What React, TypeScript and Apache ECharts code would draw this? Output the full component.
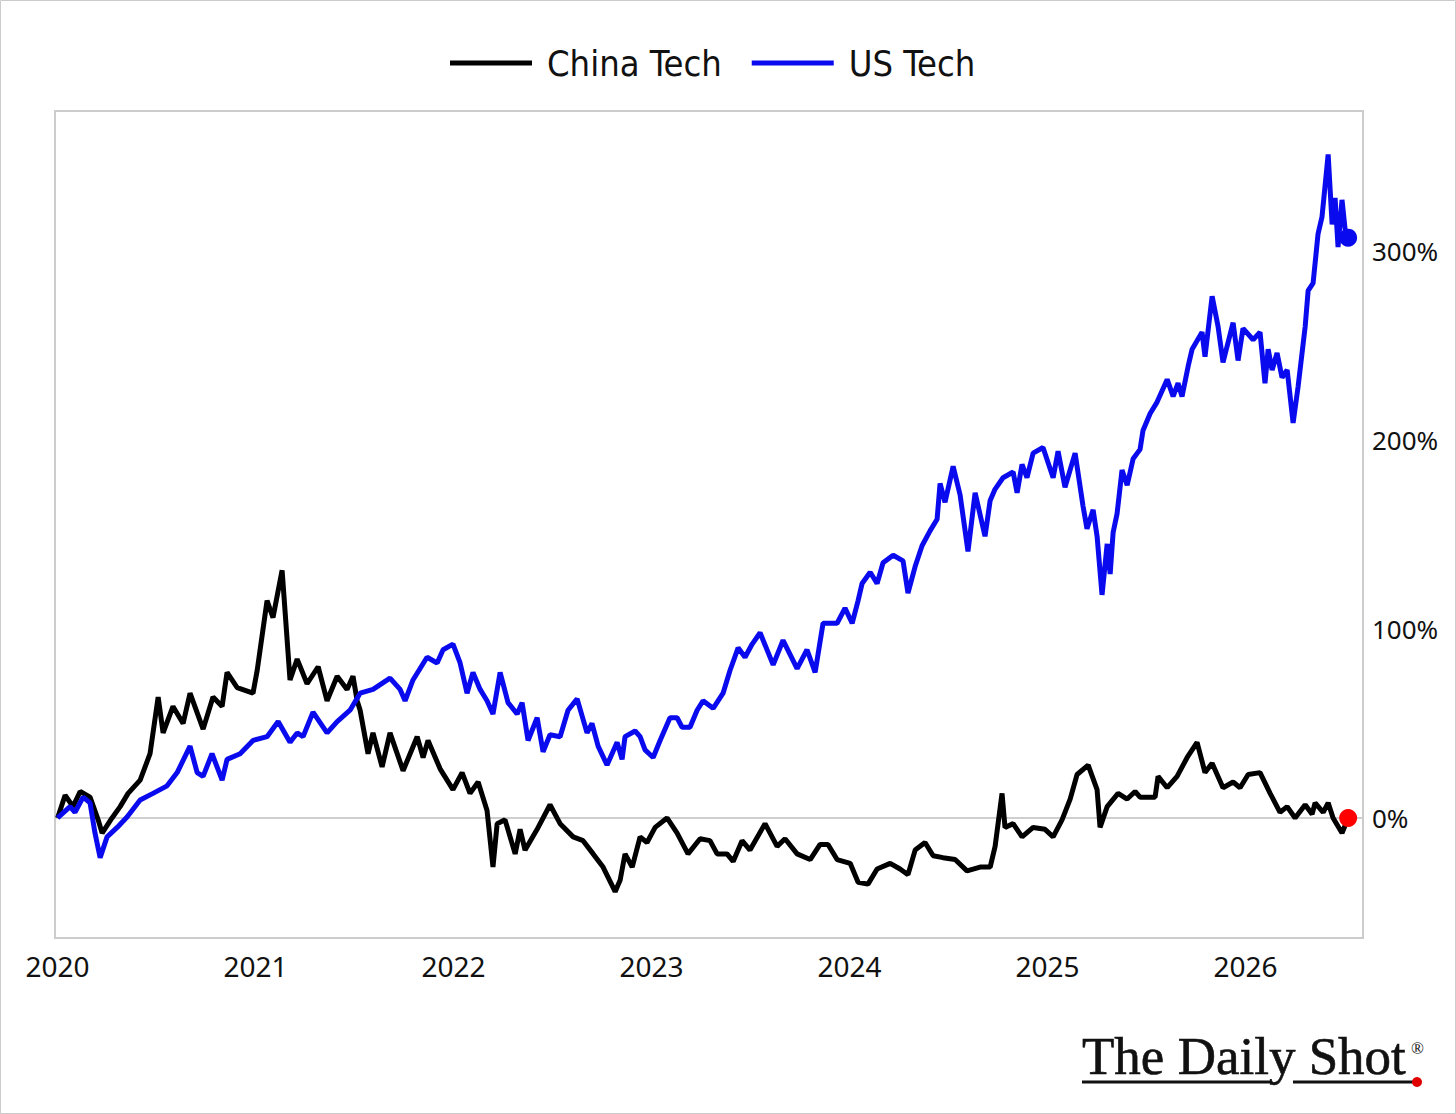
import React, { useEffect, useRef } from "react";
import * as echarts from "echarts";

// [decimal year, cumulative return %]
const chinaTech: [number, number][] = [
  [2020.0, 0], [2020.038, 12], [2020.078, 6], [2020.114, 14], [2020.164, 11], [2020.205, -1], [2020.225, -8],
  [2020.275, 0], [2020.316, 6], [2020.356, 13], [2020.417, 20], [2020.467, 34], [2020.508, 64], [2020.533, 45],
  [2020.583, 59], [2020.634, 50], [2020.669, 66], [2020.735, 47], [2020.785, 64], [2020.831, 59], [2020.856, 77],
  [2020.907, 69], [2020.987, 66], [2021.008, 78], [2021.058, 115], [2021.088, 106], [2021.134, 131], [2021.174, 73],
  [2021.21, 84], [2021.26, 71], [2021.316, 80], [2021.361, 62], [2021.412, 75], [2021.462, 68], [2021.492, 75],
  [2021.513, 62], [2021.528, 57], [2021.568, 34], [2021.593, 45], [2021.639, 27], [2021.679, 45], [2021.745, 25],
  [2021.816, 43], [2021.846, 32], [2021.871, 41], [2021.932, 26], [2021.997, 15], [2022.043, 24], [2022.083, 13],
  [2022.124, 19], [2022.169, 4], [2022.199, -26], [2022.22, -3], [2022.26, -1], [2022.311, -19], [2022.336, -6],
  [2022.361, -17], [2022.422, -6], [2022.487, 7], [2022.538, -3], [2022.604, -10], [2022.654, -12], [2022.705, -19],
  [2022.755, -26], [2022.816, -39], [2022.841, -33], [2022.866, -19], [2022.902, -26], [2022.942, -10], [2022.977, -13],
  [2023.018, -5], [2023.078, 0], [2023.129, -8], [2023.184, -19], [2023.245, -11], [2023.295, -12], [2023.331, -19],
  [2023.381, -19], [2023.412, -23], [2023.457, -12], [2023.497, -17], [2023.573, -3], [2023.634, -15], [2023.674, -11],
  [2023.735, -19], [2023.801, -22], [2023.851, -14], [2023.891, -14], [2023.937, -22], [2024.003, -24], [2024.043, -34],
  [2024.093, -35], [2024.139, -27], [2024.205, -24], [2024.255, -27], [2024.295, -30], [2024.331, -17], [2024.381, -13],
  [2024.422, -20], [2024.472, -21], [2024.533, -22], [2024.593, -28], [2024.659, -26], [2024.71, -26], [2024.735, -15],
  [2024.77, 13], [2024.785, -5], [2024.826, -3], [2024.871, -10], [2024.927, -5], [2024.987, -6], [2025.028, -10],
  [2025.073, -1], [2025.114, 10], [2025.149, 23], [2025.205, 28], [2025.25, 15], [2025.265, -5], [2025.301, 6],
  [2025.356, 13], [2025.402, 10], [2025.442, 14], [2025.467, 11], [2025.543, 11], [2025.558, 22], [2025.604, 16],
  [2025.654, 22], [2025.705, 32], [2025.755, 40], [2025.795, 24], [2025.831, 29], [2025.886, 16], [2025.937, 19],
  [2025.972, 16], [2026.013, 23], [2026.073, 24], [2026.124, 13], [2026.174, 3], [2026.21, 6], [2026.25, 0],
  [2026.301, 7], [2026.336, 2], [2026.351, 8], [2026.392, 3], [2026.417, 8], [2026.442, 0], [2026.487, -8],
  [2026.518, 0],
];

const usTech: [number, number][] = [
  [2020.0, 0], [2020.063, 6], [2020.088, 3], [2020.129, 11], [2020.164, 8], [2020.189, -8], [2020.215, -21],
  [2020.25, -10], [2020.301, -5], [2020.351, 0.5], [2020.417, 9.5], [2020.482, 13], [2020.553, 17], [2020.604, 24],
  [2020.669, 38], [2020.705, 24], [2020.735, 22], [2020.78, 34], [2020.831, 20], [2020.856, 31], [2020.922, 34],
  [2020.987, 41], [2021.058, 43], [2021.114, 51], [2021.174, 40], [2021.21, 45], [2021.24, 43], [2021.29, 56],
  [2021.361, 45], [2021.412, 51], [2021.477, 57], [2021.528, 66], [2021.593, 68], [2021.679, 74], [2021.73, 68],
  [2021.755, 62], [2021.795, 73], [2021.866, 85], [2021.917, 82], [2021.947, 89], [2021.997, 92], [2022.033, 82],
  [2022.068, 66], [2022.098, 77], [2022.134, 68], [2022.169, 62], [2022.199, 55], [2022.235, 77], [2022.275, 61],
  [2022.321, 55], [2022.346, 61], [2022.376, 41], [2022.422, 53], [2022.452, 35], [2022.487, 44], [2022.538, 43],
  [2022.578, 57], [2022.624, 63], [2022.674, 45], [2022.699, 50], [2022.73, 38], [2022.775, 28], [2022.826, 40],
  [2022.851, 31], [2022.866, 43], [2022.917, 46], [2022.942, 43], [2022.967, 36], [2023.008, 32], [2023.043, 41],
  [2023.093, 53], [2023.129, 53], [2023.154, 48], [2023.194, 48], [2023.23, 57], [2023.26, 62], [2023.311, 58],
  [2023.361, 66], [2023.396, 78], [2023.437, 90], [2023.472, 85], [2023.508, 92], [2023.548, 98], [2023.614, 81],
  [2023.664, 94], [2023.735, 79], [2023.785, 89], [2023.826, 77], [2023.866, 103], [2023.937, 103], [2023.977, 111],
  [2024.013, 103], [2024.043, 115], [2024.063, 124], [2024.104, 130], [2024.139, 124], [2024.169, 135], [2024.22, 139],
  [2024.27, 136], [2024.295, 119], [2024.331, 133], [2024.366, 144], [2024.407, 152], [2024.442, 158], [2024.457, 177],
  [2024.482, 167], [2024.523, 186], [2024.558, 171], [2024.598, 141], [2024.634, 172], [2024.684, 149], [2024.71, 168],
  [2024.735, 174], [2024.775, 180], [2024.826, 183], [2024.846, 172], [2024.871, 187], [2024.896, 180], [2024.927, 193],
  [2024.977, 196], [2025.028, 180], [2025.053, 194], [2025.088, 175], [2025.139, 193], [2025.179, 165], [2025.199, 153],
  [2025.23, 163], [2025.25, 149], [2025.275, 118], [2025.301, 145], [2025.316, 129], [2025.331, 151], [2025.351, 161],
  [2025.376, 184], [2025.402, 176], [2025.432, 190], [2025.467, 195], [2025.482, 205], [2025.518, 214], [2025.553, 220],
  [2025.604, 232], [2025.634, 223], [2025.659, 230], [2025.679, 223], [2025.71, 239], [2025.73, 248], [2025.78, 257],
  [2025.795, 244], [2025.831, 276], [2025.861, 260], [2025.886, 241], [2025.937, 262], [2025.962, 242], [2025.987, 259],
  [2026.038, 253], [2026.073, 257], [2026.098, 230], [2026.114, 248], [2026.134, 237], [2026.159, 246], [2026.184, 233],
  [2026.21, 237], [2026.24, 209], [2026.265, 228], [2026.301, 260], [2026.316, 279], [2026.341, 283], [2026.366, 309],
  [2026.386, 318], [2026.417, 351], [2026.437, 314], [2026.452, 328], [2026.467, 302], [2026.487, 327], [2026.503, 311],
  [2026.518, 307],
];

const seriesNames = ["China Tech", "US Tech"];
const xTickYears = [2020, 2021, 2022, 2023, 2024, 2025, 2026];
const yTickValues = [0, 100, 200, 300];

export default function App() {
  const ref = useRef<HTMLDivElement>(null);

  useEffect(() => {
    const chart = echarts.init(ref.current!, null, { renderer: "svg" });
    const chinaLast = chinaTech[chinaTech.length - 1];
    const usLast = usTech[usTech.length - 1];
    const tickFont = "'Noto Sans', 'DejaVu Sans', sans-serif";

    chart.setOption({
      animation: false,
      backgroundColor: "#ffffff",
      legend: {
        data: seriesNames,
        top: 40,
        left: 445,
        icon: "rect",
        itemWidth: 82,
        itemHeight: 5,
        itemGap: 30,
        textStyle: {
          fontFamily: "'Liberation Sans Narrow', 'DejaVu Sans Condensed', sans-serif",
          fontSize: 36,
          color: "#111",
          padding: [0, 0, 0, 10],
        },
      },
      grid: {
        left: 55,
        right: 93,
        top: 111,
        bottom: 176,
        show: true,
        borderColor: "#cccccc",
        borderWidth: 2,
        backgroundColor: "transparent",
      },
      xAxis: {
        type: "value",
        min: 2019.987,
        max: 2026.593,
        axisLine: { show: false },
        axisTick: { show: false },
        splitLine: { show: false },
        axisLabel: {
          customValues: xTickYears,
          formatter: (v: number) => String(Math.round(v)),
          fontFamily: tickFont,
          fontSize: 28,
          color: "#111",
          margin: 14,
        },
      },
      yAxis: {
        type: "value",
        position: "right",
        min: -63.5,
        max: 374,
        axisLine: { show: false },
        axisTick: { show: false },
        splitLine: { show: false },
        axisLabel: {
          customValues: yTickValues,
          formatter: "{value}%",
          fontFamily: tickFont,
          fontSize: 26,
          color: "#111",
          margin: 9,
        },
      },
      series: [
        {
          name: seriesNames[0],
          type: "line",
          data: chinaTech,
          showSymbol: false,
          color: "#000000",
          lineStyle: { color: "#000000", width: 5 },
          z: 3,
          markLine: {
            silent: true,
            symbol: "none",
            z: 1,
            label: { show: false },
            lineStyle: { color: "#cfcfcf", width: 2, type: "solid" },
            data: [{ yAxis: 0 }],
          },
        },
        {
          name: seriesNames[1],
          type: "line",
          data: usTech,
          showSymbol: false,
          color: "#0a0aee",
          lineStyle: { color: "#0a0aee", width: 5 },
          z: 3,
        },
        {
          type: "scatter",
          data: [chinaLast],
          symbolSize: 18,
          itemStyle: { color: "#ff0000", opacity: 1 },
          z: 4,
        },
        {
          type: "scatter",
          data: [usLast],
          symbolSize: 18,
          itemStyle: { color: "#0a0aee", opacity: 1 },
          z: 4,
        },
      ],
      graphic: [
        {
          type: "rect",
          shape: { x: 0.5, y: 0.5, width: 1455, height: 1113 },
          style: { fill: "none", stroke: "#cccccc", lineWidth: 1 },
          silent: true,
        },
        {
          type: "text",
          x: 1082,
          y: 1056,
          style: {
            text: "The Daily Shot",
            fontFamily: "'Liberation Serif', 'DejaVu Serif', serif",
            fontSize: 53,
            fill: "#111",
            stroke: "#111",
            lineWidth: 0.6,
            verticalAlign: "middle",
            align: "left",
          },
        },
        {
          type: "text",
          x: 1411,
          y: 1048,
          style: {
            text: "®",
            fontFamily: "'Liberation Serif', 'DejaVu Serif', serif",
            fontSize: 17,
            fill: "#111",
            verticalAlign: "middle",
            align: "left",
          },
        },
        { type: "rect", shape: { x: 1082, y: 1080.5, width: 189, height: 3 }, style: { fill: "#111" } },
        { type: "rect", shape: { x: 1293, y: 1080.5, width: 120, height: 3 }, style: { fill: "#111" } },
        { type: "circle", shape: { cx: 1417, cy: 1082, r: 5 }, style: { fill: "#e00000" } },
      ],
    });

    return () => chart.dispose();
  }, []);

  return (
    <div
      ref={ref}
      style={{ position: "absolute", left: 0, top: 0, width: 1456, height: 1114, background: "#fff" }}
    />
  );
}
